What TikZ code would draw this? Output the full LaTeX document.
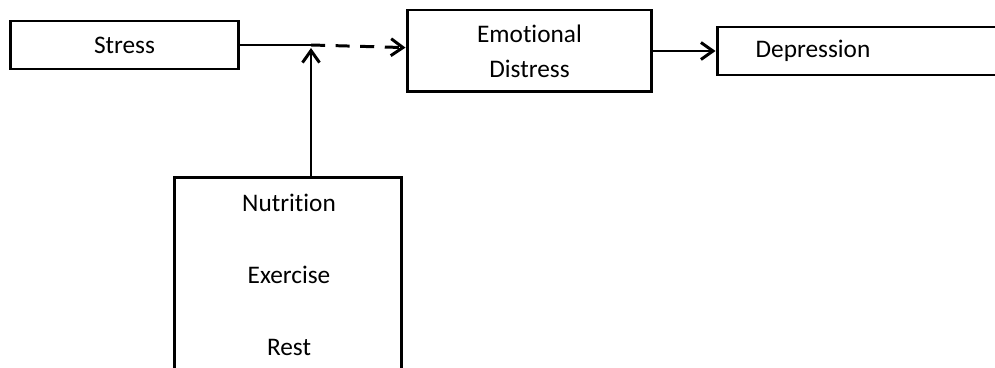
\documentclass[tikz,border=0pt]{standalone}
\usepackage{fontspec}
\setmainfont{Carlito}[Ligatures=NoCommon]
\usetikzlibrary{arrows.meta,positioning}
\tikzset{block/.style={rectangle, draw=black, line width=1.7pt, fill=white, align=center, inner sep=0pt, font=\fontsize{14.4}{20}\selectfont}, label/.style={inner sep=0pt, font=\fontsize{14.4}{20}\selectfont}, arrow/.style={-{Straight Barb[length=2.4mm, width=3.4mm, line width=1.7pt]}, line width=1.7pt, draw=black}}
\begin{document}
\begin{tikzpicture}[x=0.02cm, y=-0.02cm]
\useasboundingbox (0,0) rectangle (995,368);
\clip (0,0) rectangle (995,368);
\node[block, minimum width=4.58cm, minimum height=0.96cm] (stress) at (124.5,45) {Stress};
\node[block, minimum width=4.9cm, minimum height=1.64cm] (emotion) at (529.5,51) {Emotional\\Distress};
\node[block, minimum width=5.86cm, minimum height=0.96cm] (depression) at (863.5,51) {};
\node[label] (deptext) at (813,51) {Depression};
\node[block, minimum width=4.56cm, minimum height=4.06cm] (factors) at (288,278.5) {};
\node[label] (nutrition) at (289,203) {Nutrition};
\node[label] (exercise) at (289,275) {Exercise};
\node[label] (rest) at (289,347) {Rest};
\coordinate (join) at (311,45);
\coordinate (tip) at (311,48);
\draw[line width=1.7pt] (stress) -- (join);
\draw[arrow, dash pattern=on 8pt off 6pt] (join) -- (emotion);
\draw[arrow] (factors.north -| join) -- (tip);
\draw[arrow] (emotion) -- (depression);
\end{tikzpicture}
\end{document}
